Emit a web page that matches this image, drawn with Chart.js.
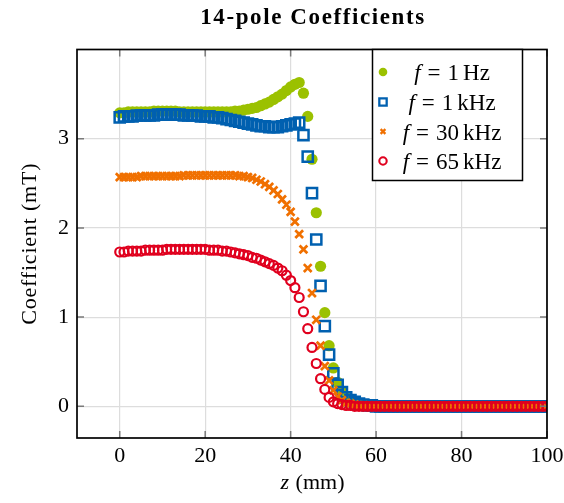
<!DOCTYPE html>
<html><head><meta charset="utf-8">
<script src="https://cdn.jsdelivr.net/npm/chart.js@4.4.1/dist/chart.umd.min.js"></script>
<style>html,body{margin:0;padding:0;background:#fff}#wrap{width:564px;height:503px;position:relative}</style>
</head><body><div id="wrap"><canvas id="c"></canvas></div>
<script>
const zMm = [0,1,2,3,4,5,6,7,8,9,10,11,12,13,14,15,16,17,18,19,20,21,22,23,24,25,26,27,28,29,30,31,32,33,34,35,36,37,38,39,40,41,42,43,44,45,46,47,48,49,50,51,52,53,54,55,56,57,58,59,60,61,62,63,64,65,66,67,68,69,70,71,72,73,74,75,76,77,78,79,80,81,82,83,84,85,86,87,88,89,90,91,92,93,94,95,96,97,98,99,100];
const coef1Hz = [3.29,3.29,3.30,3.30,3.30,3.30,3.30,3.30,3.31,3.31,3.31,3.31,3.31,3.31,3.30,3.30,3.30,3.30,3.30,3.30,3.30,3.30,3.30,3.30,3.30,3.30,3.30,3.31,3.31,3.32,3.33,3.34,3.35,3.37,3.39,3.41,3.44,3.47,3.50,3.54,3.58,3.61,3.63,3.51,3.25,2.77,2.17,1.57,1.05,0.68,0.43,0.27,0.17,0.11,0.07,0.04,0.03,0.02,0.01,0.01,0,0,0,0,0,0,0,0,0,0,0,0,0,0,0,0,0,0,0,0,0,0,0,0,0,0,0,0,0,0,0,0,0,0,0,0,0,0,0,0,0];
const coef1kHz = [3.24,3.25,3.25,3.25,3.26,3.26,3.26,3.26,3.26,3.27,3.27,3.27,3.27,3.27,3.27,3.26,3.26,3.26,3.26,3.25,3.25,3.25,3.24,3.24,3.23,3.22,3.21,3.20,3.19,3.18,3.17,3.16,3.15,3.14,3.14,3.13,3.13,3.13,3.14,3.15,3.16,3.17,3.18,3.04,2.80,2.39,1.87,1.35,0.90,0.58,0.37,0.24,0.16,0.10,0.07,0.05,0.03,0.02,0.01,0.01,0,0,0,0,0,0,0,0,0,0,0,0,0,0,0,0,0,0,0,0,0,0,0,0,0,0,0,0,0,0,0,0,0,0,0,0,0,0,0,0,0];
const coef30kHz = [2.57,2.57,2.57,2.57,2.57,2.58,2.58,2.58,2.58,2.58,2.58,2.58,2.58,2.58,2.58,2.59,2.59,2.59,2.59,2.59,2.59,2.59,2.59,2.59,2.59,2.59,2.59,2.59,2.58,2.58,2.57,2.56,2.54,2.52,2.49,2.46,2.42,2.38,2.32,2.26,2.18,2.07,1.93,1.76,1.55,1.27,0.97,0.68,0.45,0.29,0.18,0.11,0.07,0.04,0.03,0.02,0.01,0.01,0,0,0,0,0,0,0,0,0,0,0,0,0,0,0,0,0,0,0,0,0,0,0,0,0,0,0,0,0,0,0,0,0,0,0,0,0,0,0,0,0,0,0];
const coef65kHz = [1.73,1.73,1.74,1.74,1.74,1.74,1.75,1.75,1.75,1.75,1.75,1.76,1.76,1.76,1.76,1.76,1.76,1.76,1.76,1.76,1.76,1.75,1.75,1.75,1.74,1.74,1.73,1.72,1.71,1.70,1.69,1.67,1.66,1.64,1.62,1.60,1.58,1.55,1.52,1.47,1.41,1.33,1.22,1.06,0.87,0.66,0.48,0.31,0.19,0.10,0.05,0.03,0.02,0.01,0.01,0,0,0,0,0,0,0,0,0,0,0,0,0,0,0,0,0,0,0,0,0,0,0,0,0,0,0,0,0,0,0,0,0,0,0,0,0,0,0,0,0,0,0,0,0,0];
const xTickValues = [0,20,40,60,80,100];
const yTickValues = [0,1,2,3];
const seriesNumbers = ['1','1','30','65'];
const seriesUnits = ['Hz','kHz','kHz','kHz'];
const chartTitle = '14-pole Coefficients';
const xTitleVar = 'z';
const xTitleUnit = ' (mm)';
const yTitle = 'Coefficient (mT)';

const SERIF = "'Liberation Serif','Times New Roman',serif";
const COLORS = ['#9bc100','#0060b0','#f07000','#e0001e'];

function pts(arr){ return zMm.map((z,i)=>({x:z,y:arr[i]})); }

const styles = [
  {pointStyle:'circle', radius:5.6, bw:0, fill:COLORS[0], lr:4.3, lbw:0},
  {pointStyle:'rect', radius:7.2, bw:2.5, fill:'rgba(0,0,0,0)', lr:5.2, lbw:2.3},
  {pointStyle:'crossRot', radius:5.5, bw:2.7, fill:'rgba(0,0,0,0)', lr:3.4, lbw:2.3},
  {pointStyle:'circle', radius:4.5, bw:2.2, fill:'rgba(0,0,0,0)', lr:3.7, lbw:2.1}
];
const seriesData = [coef1Hz, coef1kHz, coef30kHz, coef65kHz];

const datasets = seriesData.map((arr,i)=>({
  label: 'f = ' + seriesNumbers[i] + ' ' + seriesUnits[i],
  data: pts(arr),
  showLine:false,
  pointStyle: styles[i].pointStyle,
  pointRadius: styles[i].radius,
  pointHoverRadius: styles[i].radius,
  pointBorderWidth: styles[i].bw,
  pointBackgroundColor: styles[i].fill,
  pointBorderColor: COLORS[i],
  backgroundColor: styles[i].fill,
  borderColor: COLORS[i],
  order: 4 - i
}));

const decor = {
  id:'decor',
  afterDatasetsDraw(chart){
    const ctx = chart.ctx, a = chart.chartArea;
    const xs = chart.scales.x, ys = chart.scales.y;
    ctx.save();
    ctx.strokeStyle = '#7a7a7a'; ctx.lineWidth = 1.5;
    const tl = 7;
    ctx.beginPath();
    xTickValues.forEach(v=>{
      const px = xs.getPixelForValue(v);
      ctx.moveTo(px, a.bottom); ctx.lineTo(px, a.bottom - tl);
      ctx.moveTo(px, a.top); ctx.lineTo(px, a.top + tl);
    });
    yTickValues.forEach(v=>{
      const py = ys.getPixelForValue(v);
      ctx.moveTo(a.left, py); ctx.lineTo(a.left + tl, py);
      ctx.moveTo(a.right, py); ctx.lineTo(a.right - tl, py);
    });
    ctx.stroke();
    ctx.strokeStyle = '#000'; ctx.lineWidth = 1.7;
    ctx.strokeRect(a.left, a.top, a.right - a.left, a.bottom - a.top);

    // legend
    const L = 372.5, R = 522.5, T = a.top, B = 180.5;
    ctx.fillStyle = '#fff';
    ctx.fillRect(L, T, R - L, B - T);
    ctx.strokeStyle = '#000'; ctx.lineWidth = 1.5;
    ctx.strokeRect(L, T, R - L, B - T);
    const rowsY = [72, 102, 131.5, 161];
    const fs = 23;
    const fontR = fs + 'px ' + SERIF;
    const fontI = 'italic ' + fs + 'px ' + SERIF;
    for (let i = 0; i < 4; i++) {
      const y = rowsY[i];
      ctx.fillStyle = styles[i].fill;
      ctx.strokeStyle = COLORS[i];
      ctx.lineWidth = styles[i].lbw;
      Chart.helpers.drawPoint(ctx, {pointStyle: styles[i].pointStyle, radius: styles[i].lr, rotation: 0, borderWidth: styles[i].lbw}, 383, y);
      ctx.fillStyle = '#000';
      ctx.textBaseline = 'alphabetic';
      ctx.textAlign = 'left';
      const parts = [
        {t:'f', f:fontI, gapAfter:7},
        {t:'=', f:fontR, gapAfter:7},
        {t:seriesNumbers[i], f:fontR, gapAfter:4},
        {t:seriesUnits[i], f:fontR, gapAfter:0}
      ];
      let w = 0;
      parts.forEach(p=>{ ctx.font = p.f; p.w = ctx.measureText(p.t).width; w += p.w + p.gapAfter; });
      let x = 452 - w/2;
      const base = y + 8;
      parts.forEach(p=>{ ctx.font = p.f; ctx.fillText(p.t, x, base); x += p.w + p.gapAfter; });
    }

    // title
    ctx.fillStyle = '#000';
    ctx.textAlign = 'center';
    ctx.textBaseline = 'alphabetic';
    ctx.font = 'bold 23px ' + SERIF;
    ctx.letterSpacing = '1.6px';
    ctx.fillText(chartTitle, (a.left + a.right) / 2 + 1, 24);
    ctx.letterSpacing = '0px';

    // axis titles
    ctx.font = 'italic 22px ' + SERIF;
    const wz = ctx.measureText(xTitleVar).width;
    ctx.font = '22px ' + SERIF;
    const wu = ctx.measureText(xTitleUnit).width;
    const cx = (a.left + a.right) / 2;
    let sx = cx - (wz + wu) / 2;
    ctx.font = 'italic 22px ' + SERIF;
    ctx.textAlign = 'left';
    ctx.fillText(xTitleVar, sx, 489);
    ctx.font = '22px ' + SERIF;
    ctx.fillText(xTitleUnit, sx + wz + 1, 489);

    ctx.save();
    ctx.translate(36, (a.top + a.bottom) / 2);
    ctx.rotate(-Math.PI / 2);
    ctx.textAlign = 'center';
    ctx.font = '22px ' + SERIF;
    ctx.letterSpacing = '0.8px';
    ctx.fillText(yTitle, 0, 0);
    ctx.restore();

    ctx.restore();
  }
};

new Chart(document.getElementById('c'), {
  type: 'scatter',
  data: { datasets },
  options: {
    responsive: true,
    maintainAspectRatio: false,
    animation: false,
    events: [],
    layout: { padding: { left: 0, right: 17, top: 49.5, bottom: 0 } },
    plugins: {
      legend: { display: false },
      tooltip: { enabled: false },
      title: { display: false, text: chartTitle }
    },
    scales: {
      x: {
        type: 'linear',
        min: -10, max: 100,
        afterBuildTicks: s => { s.ticks = xTickValues.map(v => ({ value: v })); },
        afterFit: s => { s.height = 65; s.paddingLeft = 0; s.paddingRight = 0; },
        grid: { color: '#dddddd', lineWidth: 1.2, drawTicks: false },
        border: { display: false },
        ticks: { font: { family: SERIF, size: 22 }, color: '#000', padding: 5, maxRotation: 0, autoSkip: false }
      },
      y: {
        type: 'linear',
        min: -0.355, max: 4.0,
        afterBuildTicks: s => { s.ticks = yTickValues.map(v => ({ value: v })); },
        afterFit: s => { s.width = 77; s.paddingTop = 0; s.paddingBottom = 0; },
        grid: { color: '#dddddd', lineWidth: 1.2, drawTicks: false },
        border: { display: false },
        ticks: { font: { family: SERIF, size: 22 }, color: '#000', padding: 8 }
      }
    }
  },
  plugins: [decor]
});
</script>
</body></html>
